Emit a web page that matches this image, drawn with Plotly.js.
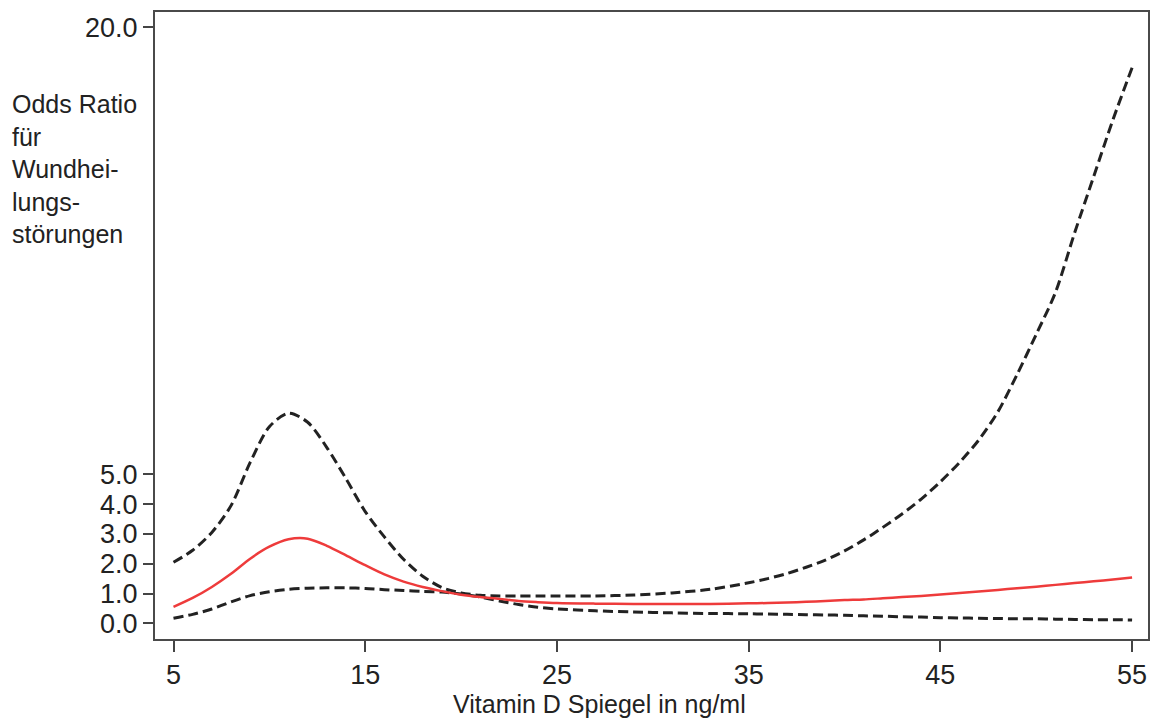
<!DOCTYPE html>
<html>
<head>
<meta charset="utf-8">
<script src="https://cdn.plot.ly/plotly-3.0.1.min.js"></script>
<style>
  html, body { margin: 0; padding: 0; background: #ffffff; }
  #chart { width: 1156px; height: 720px; }
</style>
</head>
<body>
<div id="chart"></div>
<script>
// Vitamin D level (ng/ml)
const vitaminD = [5, 6, 7, 8, 9, 10, 11, 12, 13, 14, 15, 16, 17, 18, 19, 20, 21, 22, 23, 24, 25, 27, 29, 31, 33, 35, 36, 37, 38, 39, 40, 41, 42, 43, 44, 45, 46, 47, 48, 49, 50, 51, 52, 53, 54, 55];
// Odds ratio estimate (red)
const oddsRatio = [0.55, 0.85, 1.22, 1.66, 2.17, 2.57, 2.82, 2.84, 2.6, 2.28, 1.95, 1.64, 1.4, 1.22, 1.08, 0.96, 0.88, 0.82, 0.75, 0.71, 0.68, 0.66, 0.65, 0.65, 0.65, 0.67, 0.68, 0.7, 0.72, 0.75, 0.78, 0.8, 0.84, 0.88, 0.92, 0.97, 1.02, 1.07, 1.12, 1.18, 1.23, 1.29, 1.35, 1.41, 1.47, 1.54];
// Upper confidence limit (dashed)
const upperCI = [2.05, 2.45, 3.05, 3.95, 5.4, 6.6, 7.05, 6.75, 5.9, 4.85, 3.75, 2.9, 2.15, 1.58, 1.2, 1.02, 0.94, 0.92, 0.92, 0.92, 0.92, 0.92, 0.95, 1.02, 1.14, 1.36, 1.5, 1.67, 1.88, 2.12, 2.43, 2.8, 3.22, 3.67, 4.17, 4.75, 5.4, 6.15, 7.1, 8.35, 9.7, 11.1, 13.1, 15.0, 16.9, 18.65];
// Lower confidence limit (dashed)
const lowerCI = [0.17, 0.3, 0.48, 0.72, 0.93, 1.06, 1.14, 1.18, 1.19, 1.19, 1.17, 1.13, 1.1, 1.07, 1.05, 0.98, 0.88, 0.75, 0.63, 0.54, 0.48, 0.42, 0.38, 0.35, 0.33, 0.32, 0.31, 0.3, 0.29, 0.28, 0.27, 0.25, 0.24, 0.22, 0.21, 0.19, 0.18, 0.17, 0.16, 0.15, 0.15, 0.14, 0.13, 0.12, 0.12, 0.11];

const xTicks = [5, 15, 25, 35, 45, 55];
const yTicks = [0, 1, 2, 3, 4, 5, 20];
const yTickText = ["0.0", "1.0", "2.0", "3.0", "4.0", "5.0", "20.0"];

const yTitle = "Odds Ratio<br>für<br>Wundhei-<br>lungs-<br>störungen";
const xTitle = "Vitamin D Spiegel in ng/ml";

const dashLine = { color: '#222222', width: 3, dash: '10px,5px', shape: 'spline', smoothing: 0.8 };

const traces = [
  { x: vitaminD, y: upperCI, type: 'scatter', mode: 'lines', line: dashLine, hoverinfo: 'skip' },
  { x: vitaminD, y: lowerCI, type: 'scatter', mode: 'lines', line: dashLine, hoverinfo: 'skip' },
  { x: vitaminD, y: oddsRatio, type: 'scatter', mode: 'lines',
    line: { color: '#ee3b3b', width: 2.5, shape: 'spline', smoothing: 0.8 }, hoverinfo: 'skip' }
];

const tickFont = { family: 'Liberation Sans, Arial, sans-serif', size: 27, color: '#222' };

const layout = {
  width: 1156, height: 720,
  margin: { l: 155, r: 8, t: 12, b: 81 },
  paper_bgcolor: '#ffffff', plot_bgcolor: '#ffffff',
  showlegend: false,
  xaxis: {
    range: [4.035, 55.83],
    tickvals: xTicks, ticktext: xTicks.map(String),
    ticks: 'outside', ticklen: 11, tickwidth: 2, tickcolor: '#444',
    showline: true, linecolor: '#4a4a4a', linewidth: 2, mirror: true,
    showgrid: false, zeroline: false,
    tickfont: tickFont
  },
  yaxis: {
    range: [-0.527, 20.52],
    tickvals: yTicks, ticktext: yTickText,
    ticks: 'outside', ticklen: 10, tickwidth: 2, tickcolor: '#444',
    showline: true, linecolor: '#4a4a4a', linewidth: 2, mirror: true,
    showgrid: false, zeroline: false,
    tickfont: tickFont
  },
  annotations: [
    { text: yTitle, xref: 'paper', yref: 'paper', x: (10 - 155) / 993, y: (639 - 88) / 627,
      xanchor: 'left', yanchor: 'top', align: 'left', showarrow: false,
      font: { family: 'Liberation Sans, Arial, sans-serif', size: 25, color: '#222' } },
    { text: xTitle, xref: 'paper', yref: 'paper', x: (599 - 155) / 993, y: (639 - 704) / 627,
      xanchor: 'center', yanchor: 'middle', showarrow: false,
      font: { family: 'Liberation Sans, Arial, sans-serif', size: 25, color: '#222' } }
  ]
};

Plotly.newPlot('chart', traces, layout, { staticPlot: true, displayModeBar: false });
</script>
</body>
</html>
